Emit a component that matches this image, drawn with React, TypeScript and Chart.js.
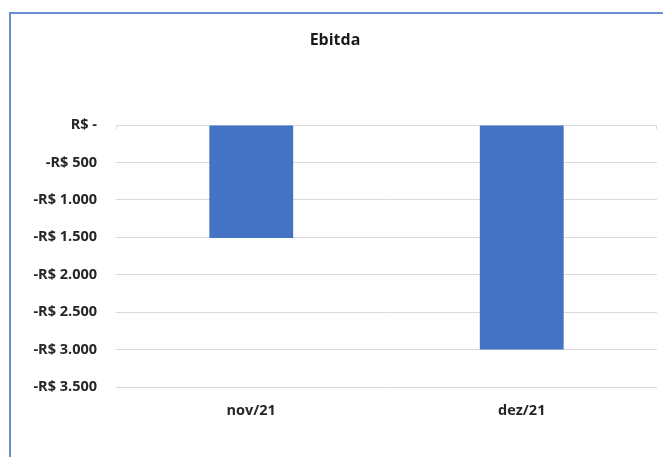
import React, { useEffect, useRef } from "react";
import { Chart, registerables } from "chart.js";

Chart.register(...registerables);

const categories = ["nov/21", "dez/21"];
const ebitdaValues = [-1510, -3000];
const yTickValues = [0, -500, -1000, -1500, -2000, -2500, -3000, -3500];
const titleText = "Ebitda";

function formatBRL(v: number): string {
  if (v === 0) return "R$ -";
  const abs = Math.abs(v);
  const s = abs.toString().replace(/\B(?=(\d{3})+(?!\d))/g, ".");
  return (v < 0 ? "-" : "") + "R$ " + s;
}

const FONT = "'Open Sans', 'Noto Sans', sans-serif";

const framePlugin = {
  id: "framePlugin",
  beforeDraw(chart: any) {
    const ctx = chart.ctx;
    ctx.save();
    ctx.fillStyle = "#ffffff";
    ctx.fillRect(0, 0, chart.width, chart.height);
    ctx.restore();
  },
  afterDraw(chart: any) {
    const ctx = chart.ctx;
    const area = chart.chartArea;
    ctx.save();
    ctx.strokeStyle = "#6a8fd0";
    ctx.lineWidth = 2;
    ctx.beginPath();
    ctx.moveTo(10, chart.height + 2);
    ctx.lineTo(10, 13);
    ctx.lineTo(chart.width + 2, 13);
    ctx.stroke();
    ctx.strokeStyle = "#d9d9d9";
    ctx.lineWidth = 1;
    ctx.beginPath();
    ctx.moveTo(area.left + 0.5, area.top);
    ctx.lineTo(area.left + 0.5, area.top + 4);
    ctx.moveTo(area.right - 0.5, area.top);
    ctx.lineTo(area.right - 0.5, area.top + 4);
    ctx.stroke();
    ctx.fillStyle = "#1a1a1a";
    ctx.font = `bold 16px ${FONT}`;
    ctx.textAlign = "center";
    ctx.textBaseline = "middle";
    ctx.fillText(titleText, 335, 40);
    ctx.restore();
  },
};

export default function App() {
  const ref = useRef<HTMLCanvasElement | null>(null);
  useEffect(() => {
    if (!ref.current) return;
    const chart = new Chart(ref.current, {
      type: "bar",
      data: {
        labels: categories,
        datasets: [
          {
            label: "Ebitda",
            data: ebitdaValues,
            backgroundColor: "#4472c4",
            borderWidth: 0,
            categoryPercentage: 1,
            barPercentage: 0.31,
          },
        ],
      },
      options: {
        animation: false,
        responsive: false,
        maintainAspectRatio: false,
        layout: { padding: { top: 125, left: 0, right: 6, bottom: 0 } },
        plugins: {
          legend: { display: false },
          title: { display: false },
          tooltip: { enabled: false },
        },
        scales: {
          x: {
            position: "bottom",
            grid: { display: false, drawTicks: false },
            border: { display: false },
            ticks: {
              padding: 15,
              color: "#262626",
              font: { family: FONT, size: 14.5, weight: "bold" },
            },
            afterFit(scale: any) {
              scale.height = 70;
            },
          },
          y: {
            min: -3500,
            max: 0,
            afterBuildTicks(scale: any) {
              scale.ticks = yTickValues.map((v) => ({ value: v }));
            },
            grid: { color: "#d9d9d9", drawTicks: false, lineWidth: 1 },
            border: { display: false },
            ticks: {
              padding: 19,
              color: "#262626",
              font: { family: FONT, size: 14.5, weight: "bold" },
              callback: (v: any) => formatBRL(Number(v)),
            },
            afterFit(scale: any) {
              scale.width = 116;
            },
          },
        },
      },
      plugins: [framePlugin],
    });
    return () => chart.destroy();
  }, []);
  return (
    <div style={{ position: "absolute", left: 0, top: 0, width: 663, height: 457 }}>
      <canvas ref={ref} width={663} height={457} style={{ display: "block" }} />
    </div>
  );
}
